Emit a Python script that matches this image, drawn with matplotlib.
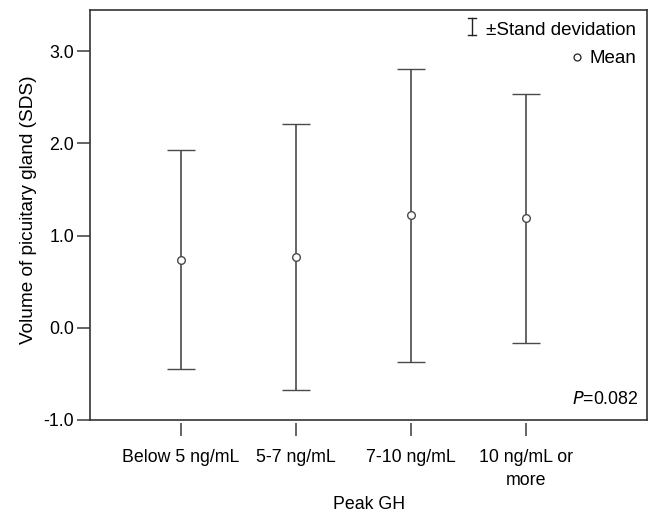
import numpy as np
import matplotlib.pyplot as plt
from matplotlib.lines import Line2D
from matplotlib.offsetbox import AnchoredOffsetbox, HPacker, VPacker, TextArea, DrawingArea

plt.rcParams['font.family'] = ['Liberation Sans', 'DejaVu Sans']

# data
groups = ['Below 5 ng/mL', '5-7 ng/mL', '7-10 ng/mL', '10 ng/mL or\nmore']
means = [0.74, 0.77, 1.22, 1.19]
sds = [1.19, 1.44, 1.59, 1.35]
yticks = [-1.0, 0.0, 1.0, 2.0, 3.0]

col = '#4a4a4a'
fs = 12.8
fig = plt.figure(figsize=(6.49, 5.15), dpi=100)
ax = fig.add_axes([0.139, 0.1845, 0.858, 0.796])

x = np.arange(len(groups))
ax.errorbar(x, means, yerr=sds, fmt='o', color=col, ecolor=col, elinewidth=1.2,
            capsize=10, capthick=1.2, markersize=5.5, markerfacecolor='white',
            markeredgecolor=col, markeredgewidth=1.0)

ax.set_xlim(-0.79, 4.05)
ax.set_ylim(-1.0, 3.445)
ax.set_yticks(yticks)
ax.set_yticklabels(['%.1f' % v for v in yticks], fontsize=fs)
ax.tick_params(axis='y', length=9.5, width=1.2, color=col, pad=2)
ax.set_ylabel('Volume of picuitary gland (SDS)', fontsize=13.7)
ax.yaxis.set_label_coords(-0.096, 0.512)

# x ticks detached a bit below the frame
ax.set_xticks([])
sec = ax.secondary_xaxis(-0.008)
sec.set_xticks(x)
sec.set_xticklabels(groups, fontsize=fs, linespacing=1.45)
sec.tick_params(axis='x', length=9.5, width=1.2, color=col, pad=9)
sec.spines['bottom'].set_visible(False)
sec.set_xlabel('Peak GH', fontsize=fs, labelpad=5)

for s in ax.spines.values():
    s.set_color('#333333')
    s.set_linewidth(1.2)

ax.text(0.985, 0.03, r'$\it{P}$=0.082', transform=ax.transAxes, ha='right',
        va='bottom', fontsize=fs)

# legend: symbols before right aligned labels
lfs = 13.5
da1 = DrawingArea(8, 14, 0, 0)
da1.add_artist(Line2D([4, 4], [4, 16], color='#222222', lw=1.0))
da1.add_artist(Line2D([1, 7], [16, 16], color='#222222', lw=1.0))
da1.add_artist(Line2D([1, 7], [4, 4], color='#222222', lw=1.0))
da2 = DrawingArea(8, 14, 0, 0)
da2.add_artist(Line2D([4], [8.5], marker='o', markersize=5, markerfacecolor='white',
                      markeredgecolor='#222222', markeredgewidth=0.9))
row1 = HPacker(children=[da1, TextArea('±Stand devidation', textprops=dict(fontsize=lfs))],
               align='center', pad=0, sep=6)
row2 = HPacker(children=[da2, TextArea('Mean', textprops=dict(fontsize=lfs))],
               align='center', pad=0, sep=5)
box = VPacker(children=[row1, row2], align='right', pad=0, sep=6)
anc = AnchoredOffsetbox(loc='upper right', child=box, pad=0.2, borderpad=0.6, frameon=False)
ax.add_artist(anc)

fig.savefig('out.png', dpi=100)
